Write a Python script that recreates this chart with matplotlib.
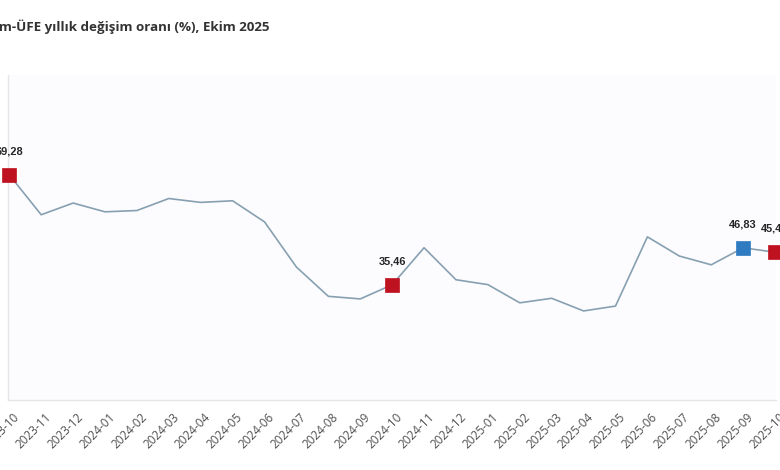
import matplotlib
matplotlib.use("Agg")
import matplotlib.pyplot as plt
from matplotlib.transforms import ScaledTranslation

months = ["2023-10", "2023-11", "2023-12", "2024-01", "2024-02", "2024-03",
          "2024-04", "2024-05", "2024-06", "2024-07", "2024-08", "2024-09",
          "2024-10", "2024-11", "2024-12", "2025-01", "2025-02", "2025-03",
          "2025-04", "2025-05", "2025-06", "2025-07", "2025-08", "2025-09",
          "2025-10"]
values = [69.28, 57.0, 60.6, 57.9, 58.3, 62.0, 60.8, 61.3, 54.8, 40.9,
          31.9, 31.1, 35.46, 46.85, 37.0, 35.5, 29.9, 31.3, 27.4, 28.9,
          50.2, 44.3, 41.6, 46.83, 45.47]
highlight_idx = [0, 12, 23, 24]
highlight_labels = ["69,28", "35,46", "46,83", "45,47"]
highlight_colors = ["#bf1220", "#bf1220", "#2f7bc1", "#bf1220"]
title = "Tarım-ÜFE yıllık değişim oranı (%), Ekim 2025"

fig = plt.figure(figsize=(7.8, 4.7), dpi=100, facecolor="white")
W, H = 780, 470
left, right, top, bottom = 8, 776, 75, 400
ax = fig.add_axes([left / W, 1 - bottom / H, (right - left) / W, (bottom - top) / H])
ax.set_facecolor("#fcfcfe")

x = list(range(len(months)))
ax.plot(x, values, color="#87a0b1", lw=1.2, zorder=2)
for i, lab, c in zip(highlight_idx, highlight_labels, highlight_colors):
    ax.plot([x[i]], [values[i]], marker="s", ms=9.4, color=c, mec=c, mew=0.5,
            zorder=3, clip_on=False, ls="none")
    ax.annotate(lab, (x[i], values[i]), xytext=(0, 17), textcoords="offset points",
                ha="center", va="center", fontsize=7.9, fontweight="bold",
                color="#262626", family=["Liberation Sans", "DejaVu Sans"],
                annotation_clip=False)

ax.set_xlim(-0.04, 24.03)
ax.set_ylim(0, 100)
ax.set_yticks([])
ax.set_xticks(x)
ax.set_xticklabels(months, rotation=45, ha="right", va="center",
                   rotation_mode="anchor", fontsize=8.5, color="#505050",
                   family=["Open Sans", "DejaVu Sans"])
ax.tick_params(axis="x", length=0, pad=0)
off = ScaledTranslation(8 / 100, -15 / 100, fig.dpi_scale_trans)
for lbl in ax.get_xticklabels():
    lbl.set_transform(lbl.get_transform() + off)

for s in ["top", "right"]:
    ax.spines[s].set_visible(False)
for s in ["left", "bottom"]:
    ax.spines[s].set_color("#e6e6e6")
    ax.spines[s].set_linewidth(1.0)

fig.text(270 / W, 1 - 27 / H, title, ha="right", va="center", fontsize=9.6,
         fontweight="bold", color="#333333", family=["Open Sans", "DejaVu Sans"])

fig.savefig("out.png", dpi=100, facecolor="white")
